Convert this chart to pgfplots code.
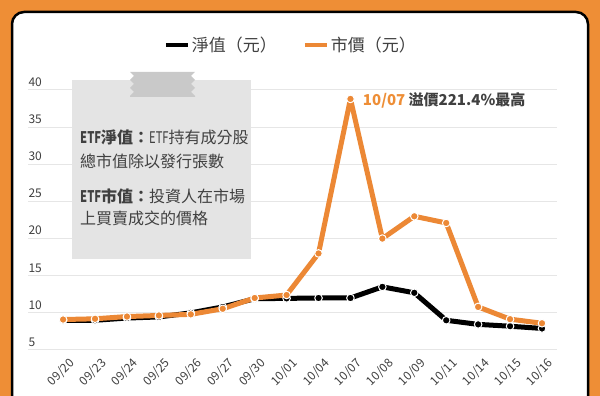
\documentclass[border=0pt]{standalone}
\usepackage{pgfplots}
\pgfplotsset{compat=1.18}
\usepackage{fontspec}
\setmainfont{Noto Sans CJK TC}
\newfontfamily\cond{Noto Sans CJK TC}[FakeStretch=0.7]
\definecolor{org}{HTML}{EE8E36}
\definecolor{lorg}{HTML}{EC8835}
\definecolor{txt}{HTML}{404040}
\definecolor{gridc}{HTML}{E6E6E6}
\definecolor{note}{HTML}{E4E4E4}
\definecolor{tape}{HTML}{C9C9C9}
\begin{document}
\begin{tikzpicture}[x=1pt,y=1pt]
\useasboundingbox (0pt,0pt) rectangle (600pt,396pt);
\fill[org] (0pt,0pt) rectangle (600pt,396pt);
\draw[black, line width=2.5pt, fill=white, rounded corners=12pt] (12pt,-30pt) rectangle (588pt,384pt);
\begin{axis}[at={(28pt,46pt)}, anchor=south west, scale only axis,
  width=529pt, height=260pt,
  xmin=-1.1, xmax=15.47, ymin=5, ymax=40,
  axis line style={draw=none}, tick style={draw=none},
  ymajorgrids, grid style={gridc, line width=1pt},
  ytick={5,10,...,40},
  xtick={0,...,15},
  xticklabels={09/20,09/23,09/24,09/25,09/26,09/27,09/30,10/01,10/04,10/07,10/08,10/09,10/11,10/14,10/15,10/16},
  /pgf/number format/assume math mode=true,
  yticklabel style={anchor=south west, xshift=-3pt, font=\fontsize{12}{12}\selectfont, text=txt},
  xticklabel style={rotate=45, anchor=north east, xshift=2pt, yshift=-5pt, font=\fontsize{12}{12}\selectfont, text=txt},
  clip=false,
  legend style={at={(0.497,1.173)}, anchor=center, draw=none, fill=none, legend columns=2,
    font=\fontsize{17}{17}\selectfont, text=txt,
    /tikz/every even column/.append style={column sep=24pt}},
  legend image code/.code={\draw[#1, line width=4pt] (-4pt,0pt) -- (18pt,0pt);},
  mark size=3.8pt,
]
\addplot[black, line width=5pt, line join=round, mark=*, mark options={draw=white, line width=1pt, fill=black}] coordinates {
(0,9.0) (1,9.0) (2,9.3) (3,9.45) (4,10.0) (5,10.8) (6,11.9) (7,11.95) (8,12.0) (9,12.0) (10,13.5) (11,12.7) (12,9.0) (13,8.45) (14,8.2) (15,7.9)};
\addlegendentry{淨值（元）}
\addplot[lorg, line width=5pt, line join=round, mark=*, mark options={draw=white, line width=1pt, fill=lorg}] coordinates {
(0,9.1) (1,9.2) (2,9.5) (3,9.65) (4,9.8) (5,10.55) (6,12.0) (7,12.4) (8,18.0) (9,38.8) (10,20.0) (11,23.0) (12,22.1) (13,10.8) (14,9.15) (15,8.6)};
\addlegendentry{市價（元）}
\node[anchor=west, xshift=9pt, font=\fontsize{15}{15}\selectfont\bfseries, text=txt] at (axis cs:9,38.6) {\textcolor{org}{10/07} 溢價221.4\%最高};
\end{axis}
% note box
\fill[note] (72pt,137pt) rectangle (251pt,316pt);
\fill[tape] (130pt,324pt) -- (134pt,320pt) -- (130pt,316pt) -- (134pt,312pt) -- (130pt,308pt) -- (134pt,304pt) -- (130pt,300pt) -- (130pt,299pt)
  -- (195pt,299pt) -- (195pt,300pt) -- (191pt,304pt) -- (195pt,308pt) -- (191pt,312pt) -- (195pt,316pt) -- (191pt,320pt) -- (195pt,324pt) -- cycle;
\begin{scope}[every node/.style={anchor=west, text=txt, font=\fontsize{16}{16}\selectfont, inner sep=0pt}]
\node at (80pt,259pt) {\textbf{{\cond ETF}淨值：}{\cond ETF}持有成分股};
\node at (80pt,235pt) {總市值除以發行張數};
\node at (80pt,200pt) {\textbf{{\cond ETF}市值：}投資人在市場};
\node at (80pt,178pt) {上買賣成交的價格};
\end{scope}
\end{tikzpicture}
\end{document}
